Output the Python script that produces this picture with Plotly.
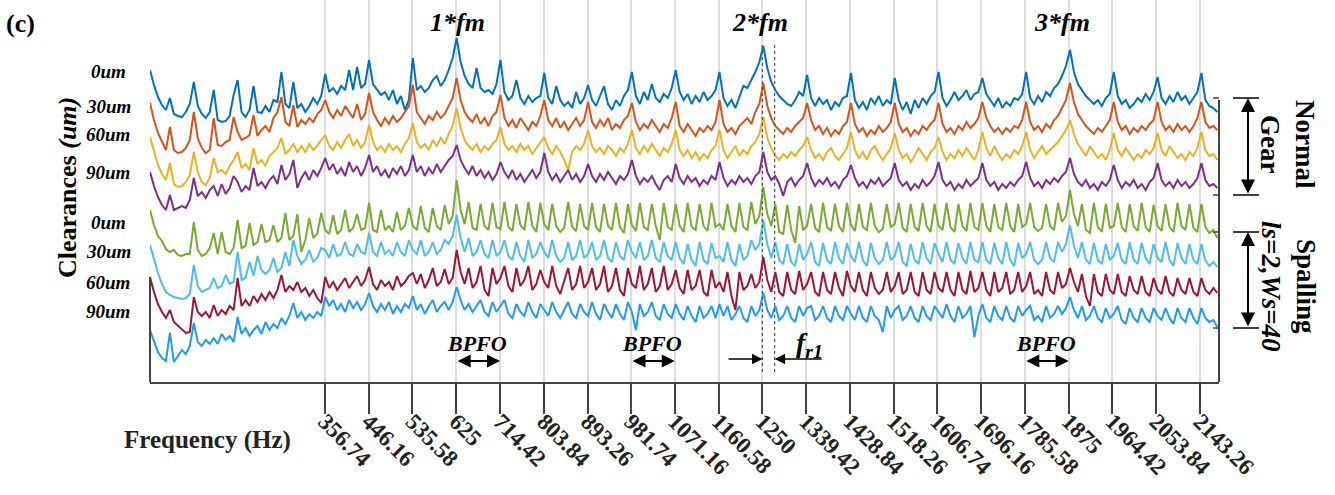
import numpy as np
import plotly.graph_objects as go

# ---------------- data ----------------
FREQ_STEP_HZ = 89.42 / 11          # spectrum bin width
FREQ_MAX_HZ = 2182

tick_freqs = [356.74, 446.16, 535.58, 625, 714.42, 803.84, 893.26, 981.74, 1071.16,
              1160.58, 1250, 1339.42, 1428.84, 1518.26, 1606.74, 1696.16, 1785.58,
              1875, 1964.42, 2053.84, 2143.26]
tick_labels = ["356.74", "446.16", "535.58", "625", "714.42", "803.84", "893.26", "981.74",
               "1071.16", "1160.58", "1250", "1339.42", "1428.84", "1518.26", "1606.74",
               "1696.16", "1785.58", "1875", "1964.42", "2053.84", "2143.26"]

clearance_labels = ["0um", "30um", "60um", "90um", "0um", "30um", "60um", "90um"]
series_offsets = [257, 225, 192, 167, 122, 82, 47, 17]

amp_normal_0um = [
    55, 40, 28, 20, 15, 27, 11, 9, 8, 13, 21,
    43, 19, 11, 7, 13, 35, 5, 3, 4, 9, 30,
    45, 13, 8, 15, 39, 13, 12, 19, 13, 25, 23,
    53, 21, 17, 43, 17, 21, 13, 19, 27, 21, 29,
    51, 33, 37, 31, 39, 35, 55, 35, 58, 37, 41,
    65, 41, 35, 30, 33, 25, 35, 21, 29, 15, 25,
    67, 35, 39, 33, 37, 45, 49, 39, 45, 55, 67,
    87, 63, 49, 41, 37, 57, 37, 33, 35, 31, 41,
    65, 33, 25, 29, 45, 27, 21, 29, 23, 27, 29,
    52, 27, 21, 39, 25, 19, 23, 17, 33, 21, 27,
    40, 25, 19, 29, 39, 21, 15, 25, 19, 29, 35,
    53, 29, 21, 33, 25, 41, 27, 23, 31, 27, 37,
    55, 33, 25, 31, 21, 29, 23, 33, 25, 29, 35,
    53, 27, 19, 25, 17, 29, 39, 37, 45, 53, 63,
    79, 57, 43, 35, 29, 25, 21, 19, 25, 33, 29,
    50, 27, 19, 27, 21, 25, 15, 23, 19, 27, 29,
    52, 25, 17, 23, 15, 27, 21, 29, 19, 25, 21,
    47, 25, 15, 23, 11, 25, 17, 27, 21, 29, 33,
    53, 27, 19, 25, 33, 25, 29, 35, 25, 31, 33,
    47, 31, 25, 19, 27, 17, 23, 19, 27, 25, 31,
    53, 27, 21, 29, 23, 33, 29, 37, 41, 49, 59,
    75, 53, 41, 35, 29, 25, 21, 25, 19, 27, 31,
    53, 29, 21, 25, 17, 21, 27, 23, 31, 25, 33,
    48, 27, 21, 29, 23, 33, 25, 29, 21, 27, 33,
    52, 25, 19, 17, 13]

amp_normal_30um = [
    54, 37, 24, 15, 7, 30, 7, 4, 5, 9, 17,
    45, 19, 9, 4, 7, 39, 12, 11, 15, 17, 40,
    25, 17, 19, 22, 42, 21, 27, 31, 25, 39, 45,
    60, 35, 31, 52, 30, 37, 33, 39, 35, 43, 47,
    57, 45, 39, 47, 41, 51, 45, 39, 53, 37, 43,
    64, 45, 37, 31, 39, 33, 41, 35, 39, 45, 51,
    72, 45, 39, 33, 41, 37, 45, 39, 43, 51, 59,
    79, 57, 45, 39, 35, 43, 33, 39, 31, 41, 45,
    62, 39, 31, 37, 29, 39, 33, 27, 35, 31, 41,
    57, 37, 31, 39, 29, 35, 27, 33, 39, 31, 37,
    55, 35, 29, 37, 31, 39, 27, 33, 29, 37, 41,
    54, 35, 27, 33, 29, 37, 31, 25, 33, 29, 39,
    55, 31, 25, 33, 27, 21, 29, 25, 31, 27, 35,
    57, 33, 25, 29, 23, 31, 35, 39, 33, 45, 53,
    74, 51, 39, 31, 27, 23, 29, 25, 31, 35, 39,
    54, 37, 27, 31, 23, 29, 21, 27, 23, 31, 35,
    54, 33, 25, 29, 21, 27, 23, 31, 25, 29, 35,
    54, 33, 25, 29, 21, 27, 23, 31, 27, 33, 37,
    54, 33, 25, 29, 23, 31, 27, 35, 29, 33, 39,
    55, 39, 31, 25, 29, 23, 29, 25, 31, 29, 37,
    55, 35, 27, 31, 25, 33, 29, 37, 41, 49, 57,
    74, 55, 43, 37, 31, 27, 23, 29, 25, 31, 37,
    55, 35, 27, 31, 23, 29, 25, 31, 27, 33, 37,
    55, 35, 27, 31, 25, 33, 27, 31, 25, 31, 39,
    55, 35, 29, 31, 27]

amp_normal_60um = [
    53, 38, 25, 16, 10, 27, 6, 3, 4, 8, 15,
    38, 18, 8, 5, 12, 32, 18, 20, 16, 24, 30,
    38, 22, 26, 20, 42, 26, 30, 24, 34, 38, 42,
    52, 36, 40, 46, 38, 44, 38, 46, 40, 44, 50,
    55, 44, 40, 48, 42, 50, 56, 44, 50, 42, 48,
    65, 48, 40, 44, 38, 46, 40, 44, 38, 46, 52,
    67, 48, 42, 46, 40, 50, 44, 52, 46, 56, 64,
    82, 62, 50, 44, 40, 46, 38, 44, 40, 46, 50,
    63, 46, 40, 44, 38, 46, 40, 44, 36, 42, 48,
    53, 42, 36, 44, 38, 30, 20, 38, 44, 40, 46,
    60, 44, 38, 42, 36, 44, 40, 34, 42, 38, 46,
    60, 42, 36, 44, 38, 46, 40, 34, 42, 38, 46,
    60, 40, 34, 40, 32, 38, 30, 36, 32, 40, 44,
    60, 40, 32, 38, 44, 34, 40, 36, 44, 48, 56,
    73, 52, 42, 34, 30, 36, 32, 38, 34, 40, 44,
    53, 40, 32, 36, 30, 38, 42, 34, 30, 36, 42,
    58, 40, 32, 38, 30, 40, 44, 36, 30, 36, 42,
    57, 40, 32, 36, 28, 34, 42, 36, 30, 38, 42,
    53, 38, 30, 36, 32, 40, 34, 42, 36, 30, 40,
    58, 42, 34, 44, 36, 30, 36, 32, 40, 36, 44,
    58, 40, 32, 38, 44, 36, 40, 44, 48, 54, 60,
    70, 56, 46, 40, 34, 44, 38, 32, 36, 30, 40,
    57, 40, 34, 42, 36, 30, 36, 32, 40, 36, 42,
    57, 40, 34, 44, 38, 32, 36, 30, 38, 34, 42,
    58, 40, 34, 36, 30]

amp_normal_90um = [
    43, 29, 18, 10, 5, 20, 5, 7, 9, 7, 15,
    37, 19, 23, 17, 25, 29, 19, 31, 21, 27, 39,
    33, 23, 29, 25, 47, 29, 33, 27, 35, 39, 31,
    50, 35, 41, 55, 27, 37, 43, 35, 45, 39, 47,
    57, 45, 51, 41, 47, 39, 53, 43, 49, 39, 47,
    60, 43, 49, 39, 45, 37, 47, 41, 49, 39, 45,
    60, 43, 49, 39, 47, 41, 51, 43, 49, 55, 59,
    70, 55, 47, 41, 49, 39, 45, 37, 43, 35, 41,
    53, 43, 37, 45, 35, 41, 33, 39, 45, 37, 43,
    62, 43, 35, 41, 33, 39, 45, 35, 41, 33, 39,
    51, 39, 33, 41, 35, 43, 37, 31, 39, 35, 41,
    55, 39, 31, 37, 33, 39, 31, 25, 35, 39, 33,
    51, 37, 31, 39, 33, 37, 29, 35, 31, 39, 35,
    53, 37, 29, 35, 31, 39, 33, 37, 31, 39, 43,
    63, 43, 35, 39, 31, 19, 33, 37, 29, 35, 39,
    52, 37, 29, 35, 31, 37, 29, 33, 27, 35, 39,
    50, 37, 29, 33, 27, 35, 31, 37, 29, 33, 37,
    52, 35, 29, 33, 25, 31, 27, 35, 29, 33, 39,
    53, 35, 29, 33, 25, 31, 27, 35, 29, 33, 37,
    52, 35, 29, 33, 25, 31, 27, 33, 29, 35, 39,
    53, 37, 29, 33, 27, 35, 31, 37, 33, 39, 43,
    57, 41, 33, 29, 35, 27, 31, 25, 33, 29, 35,
    50, 35, 27, 33, 29, 35, 27, 31, 25, 33, 37,
    52, 35, 29, 33, 27, 35, 29, 33, 27, 31, 37,
    52, 35, 29, 31, 27]

amp_spall_0um = [
    50, 35, 24, 19, 11, 8, 10, 5, 4, 6, 6,
    38, 10, 4, 6, 12, 27, 6, 28, 8, 6, 12,
    40, 12, 14, 37, 15, 18, 36, 18, 20, 35, 18,
    22, 47, 20, 24, 46, 8, 20, 42, 22, 26, 47,
    30, 26, 45, 26, 30, 50, 28, 32, 46, 30, 32,
    57, 30, 28, 50, 30, 34, 28, 48, 30, 34, 52,
    34, 30, 54, 32, 28, 52, 34, 30, 55, 36, 44,
    80, 50, 36, 58, 32, 30, 56, 34, 30, 57, 33,
    31, 58, 33, 29, 56, 35, 30, 58, 34, 28, 57,
    36, 30, 56, 34, 28, 32, 58, 33, 29, 56, 34,
    30, 57, 33, 28, 56, 34, 30, 57, 33, 27, 56,
    35, 29, 57, 33, 30, 56, 34, 20, 57, 33, 30,
    56, 34, 28, 57, 33, 30, 56, 34, 29, 57, 33,
    36, 30, 56, 34, 28, 57, 33, 30, 58, 36, 44,
    73, 46, 34, 56, 28, 26, 55, 30, 17, 54, 30,
    34, 56, 32, 28, 57, 33, 29, 56, 34, 28, 57,
    35, 29, 56, 33, 30, 57, 34, 28, 31, 56, 33,
    36, 57, 32, 28, 56, 33, 29, 57, 34, 28, 56,
    34, 30, 57, 33, 28, 56, 34, 29, 57, 33, 30,
    57, 34, 28, 56, 33, 30, 57, 34, 28, 56, 33,
    36, 57, 33, 29, 32, 56, 34, 30, 57, 38, 44,
    70, 46, 34, 56, 30, 27, 57, 33, 28, 56, 32,
    34, 57, 33, 28, 56, 34, 29, 57, 33, 28, 55,
    34, 29, 56, 33, 28, 57, 34, 30, 56, 32, 28,
    56, 33, 27, 30, 22]

amp_spall_30um = [
    55, 40, 27, 16, 8, 5, 3, 2, 1, 2, 6,
    35, 14, 8, 10, 12, 22, 12, 14, 25, 16, 18,
    48, 20, 22, 38, 24, 44, 30, 26, 30, 42, 28,
    32, 48, 34, 60, 44, 36, 40, 50, 38, 42, 52,
    50, 42, 56, 44, 46, 58, 46, 44, 56, 48, 46,
    67, 48, 44, 58, 46, 50, 44, 58, 48, 44, 60,
    50, 46, 60, 44, 48, 58, 46, 50, 60, 56, 64,
    85, 62, 48, 62, 44, 48, 60, 46, 42, 60, 44,
    48, 60, 44, 40, 58, 44, 38, 60, 42, 46, 58,
    48, 42, 60, 44, 38, 42, 58, 40, 44, 60, 42,
    46, 58, 40, 44, 60, 42, 38, 58, 44, 40, 60,
    48, 42, 58, 40, 44, 60, 42, 38, 58, 44, 40,
    58, 42, 36, 56, 40, 34, 58, 40, 36, 57, 42,
    44, 38, 58, 40, 34, 56, 40, 44, 60, 50, 56,
    80, 56, 42, 58, 40, 36, 56, 38, 34, 56, 40,
    46, 58, 38, 34, 57, 40, 36, 58, 42, 36, 57,
    44, 38, 58, 40, 34, 57, 42, 36, 40, 58, 40,
    44, 58, 38, 34, 56, 40, 36, 58, 42, 36, 57,
    46, 38, 58, 40, 36, 57, 42, 36, 58, 40, 38,
    58, 40, 36, 57, 42, 36, 58, 40, 34, 57, 42,
    46, 58, 40, 36, 40, 58, 42, 38, 58, 48, 56,
    75, 54, 42, 58, 40, 36, 57, 40, 36, 56, 40,
    44, 57, 40, 36, 58, 40, 36, 57, 42, 36, 56,
    42, 38, 58, 40, 34, 57, 42, 36, 56, 40, 36,
    56, 40, 34, 38, 33]

amp_spall_60um = [
    58, 43, 31, 23, 17, 25, 13, 9, 5, 2, 3,
    38, 23, 19, 23, 17, 30, 19, 25, 21, 29, 25,
    57, 29, 35, 29, 39, 33, 41, 35, 43, 37, 45,
    60, 43, 49, 45, 53, 43, 47, 39, 45, 37, 32,
    58, 47, 53, 45, 51, 57, 47, 53, 59, 49, 55,
    68, 51, 45, 55, 49, 53, 45, 59, 49, 53, 59,
    62, 51, 61, 47, 55, 67, 49, 53, 66, 51, 57,
    85, 63, 51, 67, 47, 53, 69, 45, 39, 67, 51,
    57, 69, 49, 43, 67, 49, 55, 69, 45, 51, 65,
    53, 47, 69, 49, 41, 53, 67, 45, 51, 69, 47,
    53, 67, 45, 51, 69, 43, 49, 67, 45, 39, 67,
    51, 47, 69, 45, 51, 67, 43, 49, 69, 45, 51,
    65, 47, 41, 65, 45, 49, 65, 43, 39, 65, 47,
    53, 43, 63, 39, 25, 63, 45, 49, 61, 47, 53,
    78, 55, 43, 63, 43, 39, 63, 45, 41, 64, 45,
    51, 63, 43, 39, 63, 45, 41, 63, 47, 39, 64,
    49, 43, 63, 45, 39, 63, 47, 41, 45, 63, 43,
    49, 63, 41, 45, 63, 43, 39, 63, 45, 41, 63,
    47, 43, 63, 45, 39, 63, 45, 41, 64, 43, 47,
    63, 45, 39, 63, 43, 47, 63, 41, 45, 63, 43,
    49, 63, 41, 45, 39, 63, 45, 41, 63, 47, 51,
    67, 53, 43, 61, 39, 29, 61, 43, 39, 61, 45,
    41, 61, 43, 39, 59, 45, 41, 59, 43, 39, 57,
    45, 41, 59, 43, 39, 57, 45, 41, 57, 43, 39,
    57, 45, 41, 47, 42]

amp_spall_90um = [
    35, 23, 13, 7, 4, 32, 3, 9, 15, 11, 19,
    42, 23, 19, 25, 21, 27, 21, 31, 25, 29, 23,
    48, 31, 37, 29, 35, 39, 31, 43, 35, 41, 37,
    47, 41, 49, 62, 47, 53, 45, 51, 47, 53, 49,
    68, 59, 65, 55, 61, 53, 65, 57, 63, 55, 61,
    72, 59, 53, 61, 55, 63, 51, 59, 53, 61, 57,
    69, 55, 61, 51, 59, 65, 53, 59, 63, 55, 63,
    78, 65, 55, 61, 53, 59, 65, 53, 49, 63, 53,
    59, 65, 51, 47, 61, 53, 49, 63, 53, 47, 61,
    55, 49, 63, 53, 47, 55, 63, 51, 47, 61, 53,
    49, 63, 51, 45, 61, 53, 47, 61, 51, 45, 63,
    53, 35, 61, 49, 53, 63, 49, 45, 61, 51, 47,
    61, 51, 45, 59, 49, 43, 59, 47, 51, 59, 47,
    61, 49, 59, 45, 51, 59, 47, 43, 59, 49, 55,
    72, 55, 47, 59, 45, 49, 59, 47, 43, 59, 49,
    57, 59, 45, 49, 59, 47, 43, 59, 49, 45, 59,
    51, 45, 59, 47, 43, 59, 49, 45, 33, 59, 47,
    55, 59, 45, 49, 59, 47, 43, 59, 49, 45, 59,
    53, 47, 61, 49, 43, 59, 47, 51, 59, 28, 49,
    61, 47, 43, 59, 49, 45, 59, 47, 43, 59, 49,
    55, 59, 45, 49, 43, 59, 47, 51, 59, 51, 57,
    68, 55, 47, 59, 45, 49, 59, 47, 43, 57, 47,
    51, 59, 45, 41, 57, 47, 43, 57, 47, 43, 57,
    49, 45, 57, 47, 41, 57, 47, 43, 57, 47, 41,
    57, 47, 43, 45, 38]

series_amps = [amp_normal_0um, amp_normal_30um, amp_normal_60um, amp_normal_90um,
               amp_spall_0um, amp_spall_30um, amp_spall_60um, amp_spall_90um]
series_names = ["Normal 0um", "Normal 30um", "Normal 60um", "Normal 90um",
                "Spalling 0um", "Spalling 30um", "Spalling 60um", "Spalling 90um"]

# ---------------- style ----------------
series_colors = ["#0072BD", "#D95319", "#EDB120", "#7E2F8E",
                 "#77AC30", "#4DBEEE", "#A2142F", "#1E9BFA"]
label_pixel_y = [72, 106, 135, 172, 222, 251, 283, 311]

SERIF = "Liberation Serif"
PLOT_L, PLOT_R, PLOT_T, PLOT_B = 150, 1219, 0, 382
W, H = 1335, 495


def px_x(px):
    return (px - PLOT_L) / (PLOT_R - PLOT_L)


def px_y(py):
    return (PLOT_B - py) / (PLOT_B - PLOT_T)


fig = go.Figure()
for name, amps, off, col in zip(series_names, series_amps, series_offsets, series_colors):
    a = np.asarray(amps, dtype=float)
    f = np.arange(len(a)) * FREQ_STEP_HZ
    fig.add_trace(go.Scatter(x=f, y=a + off, mode="lines", name=name,
                             line=dict(color=col, width=2), hoverinfo="skip"))

ann = []
shapes = []

# left clearance labels
for lab, py in zip(clearance_labels, label_pixel_y):
    ann.append(dict(x=px_x(108), y=px_y(py), xref="paper", yref="paper",
                    text=f"<b><i>{lab}</i></b>", showarrow=False,
                    font=dict(family=SERIF, size=19, color="black"),
                    xanchor="center", yanchor="middle"))

ann.append(dict(x=px_x(67), y=px_y(188), xref="paper", yref="paper",
                text="<b>Clearances <i>(um)</i></b>", textangle=-90, showarrow=False,
                font=dict(family=SERIF, size=26, color="black"),
                xanchor="center", yanchor="middle"))
ann.append(dict(x=px_x(20), y=px_y(24), xref="paper", yref="paper",
                text="<b>(c)</b>", showarrow=False,
                font=dict(family=SERIF, size=26, color="black"),
                xanchor="center", yanchor="middle"))
ann.append(dict(x=px_x(207), y=px_y(440), xref="paper", yref="paper",
                text="<b>Frequency (Hz)</b>", showarrow=False,
                font=dict(family=SERIF, size=25, color="#222"),
                xanchor="center", yanchor="middle"))

# harmonic labels
for txt, fx in [("1*fm", 627), ("2*fm", 1245), ("3*fm", 1862)]:
    ann.append(dict(x=fx, y=PLOT_B - 22, xref="x", yref="y", text=f"<b><i>{txt}</i></b>",
                    showarrow=False, font=dict(family=SERIF, size=26, color="black"),
                    xanchor="center", yanchor="middle"))

# BPFO labels and double arrows
for f0, f1 in [(625, 714.42), (981.74, 1071.16), (1785.58, 1875)]:
    ann.append(dict(x=(f0 + f1) / 2 - 2, y=PLOT_B - 343, xref="x", yref="y",
                    text="<b><i>BPFO</i></b>", showarrow=False,
                    font=dict(family=SERIF, size=22, color="black"),
                    xanchor="center", yanchor="middle"))
    ann.append(dict(x=f1, y=PLOT_B - 361, ax=f0, ay=PLOT_B - 361, xref="x", yref="y",
                    axref="x", ayref="y", text="", showarrow=True, arrowhead=2,
                    startarrowhead=2, arrowside="end+start", arrowsize=1.3,
                    arrowwidth=2, arrowcolor="black", standoff=0, startstandoff=0))

# f_r1 arrows
ann.append(dict(x=1250, y=PLOT_B - 359, ax=1178, ay=PLOT_B - 359, xref="x", yref="y",
                axref="x", ayref="y", text="", showarrow=True, arrowhead=2, arrowsize=1.3,
                arrowwidth=1.6, arrowcolor="black", standoff=0))
ann.append(dict(x=1275, y=PLOT_B - 359, ax=1374, ay=PLOT_B - 359, xref="x", yref="y",
                axref="x", ayref="y", text="", showarrow=True, arrowhead=2, arrowsize=1.3,
                arrowwidth=1.6, arrowcolor="black", standoff=0))
ann.append(dict(x=1347, y=PLOT_B - 344, xref="x", yref="y",
                text="<b><i>f</i><sub><i>r1</i></sub></b>", showarrow=False,
                font=dict(family=SERIF, size=28, color="black"),
                xanchor="center", yanchor="middle"))
for fx in [1250, 1275]:
    shapes.append(dict(type="line", xref="x", yref="y", x0=fx, x1=fx,
                       y0=PLOT_B - 372, y1=PLOT_B - 43,
                       line=dict(color="#555", width=1.2, dash="dot")))

# axes lines (left partial, right partial)
shapes.append(dict(type="line", xref="paper", yref="y", x0=0, x1=0, y0=0, y1=PLOT_B - 277,
                   line=dict(color="#444", width=2)))
shapes.append(dict(type="line", xref="paper", yref="y", x0=1, x1=1, y0=0, y1=PLOT_B - 100,
                   line=dict(color="#444", width=2)))

# right brackets
bracket_py = [98, 195, 232, 328]
for py in bracket_py:
    shapes.append(dict(type="line", xref="paper", yref="y", x0=px_x(1233), x1=px_x(1259),
                       y0=PLOT_B - py, y1=PLOT_B - py, line=dict(color="black", width=1.5)))
    shapes.append(dict(type="line", xref="paper", yref="y", x0=px_x(1213), x1=1,
                       y0=PLOT_B - py, y1=PLOT_B - py, line=dict(color="#444", width=1.5)))
for top, bot in [(98, 195), (232, 328)]:
    ann.append(dict(x=px_x(1248), y=PLOT_B - top, xref="paper", yref="y",
                    ax=0, ay=bot - top, text="", showarrow=True, arrowhead=2,
                    startarrowhead=2, arrowside="end+start", arrowsize=1.4,
                    arrowwidth=2, arrowcolor="black", standoff=0, startstandoff=0))

ann.append(dict(x=px_x(1288), y=px_y(145), xref="paper", yref="paper",
                text="<b>Normal<br>Gear</b>", textangle=90, showarrow=False,
                font=dict(family=SERIF, size=27, color="black"),
                xanchor="center", yanchor="middle"))
ann.append(dict(x=px_x(1289), y=px_y(286), xref="paper", yref="paper",
                text="<b>Spalling<br><i>ls=2,Ws=40</i></b>", textangle=90, showarrow=False,
                font=dict(family=SERIF, size=27, color="black"),
                xanchor="center", yanchor="middle"))

fig.update_layout(
    width=W, height=H,
    margin=dict(l=PLOT_L, r=W - PLOT_R, t=PLOT_T, b=H - PLOT_B),
    plot_bgcolor="white", paper_bgcolor="white",
    showlegend=False, annotations=ann, shapes=shapes,
)
fig.update_xaxes(
    range=[0, FREQ_MAX_HZ], tickmode="array", tickvals=tick_freqs,
    ticktext=[f"<b>{t}</b>" for t in tick_labels], tickangle=45,
    ticks="outside", ticklen=30, tickwidth=2, tickcolor="#444",
    ticklabelstandoff=-15,
    showgrid=True, gridcolor="#DDDDDD", gridwidth=2,
    showline=True, linecolor="#444", linewidth=2, zeroline=False, automargin=False,
    tickfont=dict(family=SERIF, size=23, color="#222"),
)
fig.update_yaxes(range=[0, PLOT_B - PLOT_T], showgrid=False, showticklabels=False,
                 zeroline=False, showline=False, ticks="", automargin=False)

fig.write_html("out.html")
